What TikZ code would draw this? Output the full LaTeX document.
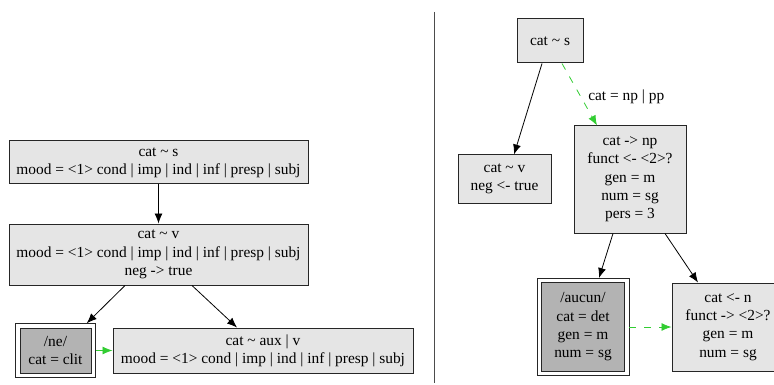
\documentclass[tikz,border=0pt]{standalone}
\usepackage{fontspec}
\setmainfont{Liberation Serif}
\usepackage{tikz}
\usetikzlibrary{arrows.meta,positioning}

\definecolor{featgray}{HTML}{E5E5E5}
\definecolor{lexgray}{HTML}{B3B3B3}
\definecolor{unifgreen}{RGB}{50,205,50}
\newcommand{\tld}{\textasciitilde}
\newcommand{\moodline}{mood = <1> cond | imp | ind | inf | presp | subj}

\begin{document}
\begin{tikzpicture}[x=1pt,y=-1pt,
		font=\fontsize{15.4}{18.3}\selectfont,
		feat/.style={draw=black!85, line width=1pt, fill=featgray, align=center, inner sep=0pt},
		lex/.style={feat, fill=lexgray, double, double distance=3.5pt, outer sep=2.5pt},
		dep/.style={-{Latex[length=10pt,width=8pt]}, line width=0.8pt},
		unif/.style={dep, unifgreen},
		unifdash/.style={unif, dash pattern=on 7pt off 8pt}]
				\clip (0,0) rectangle (774,385);
				
				% left graph
				\node [feat, minimum width=299, minimum height=43] (ls) at (158.5,162.5) {cat \tld{} s\\ \moodline};
				\node [feat, minimum width=299, minimum height=61] (lv) at (158.5,254.5) {cat \tld{} v\\ \moodline\\ neg -> true};
				\node [lex, minimum width=75.5, minimum height=49.5] (ne) at (55.5,350.5) {/ne/\\ cat = clit};
				\node [feat, minimum width=300, minimum height=45] (aux) at (263,350.5) {cat \tld{} aux | v\\ \moodline};
				
				\draw [dep] (ls) -- (lv);
				\draw [dep] ([xshift=-33.5pt]lv.south) -- ([xshift=-9pt]ne.north east);
				\draw [dep] ([xshift=33.5pt]lv.south) -- ([xshift=-26pt]aux.north);
				\draw [unif] (ne) -- (aux);
				
				% separator
				\draw [black!70, line width=1pt] (434,12) -- (434,383);
				
				% right graph
				\node [feat, minimum width=66, minimum height=44] (rs) at (550,41) {cat \tld{} s};
				\node [feat, minimum width=93, minimum height=48] (rv) at (504.5,179) {cat \tld{} v\\ neg <- true};
				\node [feat, minimum width=112, minimum height=107] (np) at (630,179.5) {cat -> np\\ funct <- <2>?\\ gen = m\\ num = sg\\ pers = 3};
				\node [lex, minimum width=87.5, minimum height=93] (aucun) at (583,327) {/aucun/\\ cat = det\\ gen = m\\ num = sg};
				\node [feat, minimum width=112, minimum height=88] (n) at (728,327) {cat <- n\\ funct -> <2>?\\ gen = m\\ num = sg};
				
				\draw [dep] ([xshift=-8pt]rs.south) -- ([xshift=9.5pt]rv.north);
				\draw [unifdash] ([xshift=12pt]rs.south) -- node [pos=0.54, right=7pt, inner sep=0pt, text=black] {cat = np | pp} ([xshift=-33pt]np.north);
				\draw [dep] ([xshift=-17pt]np.south) -- ([xshift=16pt]aucun.north);
				\draw [dep] ([xshift=35pt]np.south) -- ([xshift=-30pt]n.north);
				\draw [unifdash] (aucun) -- (n);
\end{tikzpicture}
\end{document}
